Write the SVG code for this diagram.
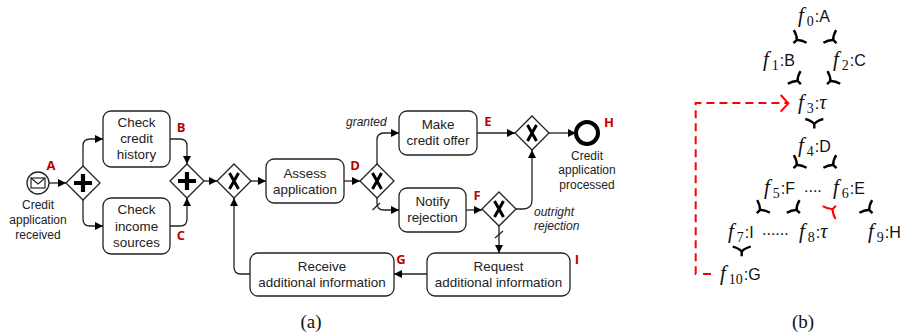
<svg xmlns="http://www.w3.org/2000/svg" width="902" height="335" viewBox="0 0 902 335">
<style>
.box{fill:#fff;stroke:#222;stroke-width:1.3}
.gw{fill:#fff;stroke:#222;stroke-width:1.3}
.plus{fill:none;stroke:#000;stroke-width:4.2}
.xor{fill:none;stroke:#000;stroke-width:3}
.t{font:13.400px "Liberation Sans",Arial,sans-serif;fill:#222;text-anchor:middle}
.s{font:12px "Liberation Sans",Arial,sans-serif;fill:#222;text-anchor:middle}
.i{font:italic 12px "Liberation Sans",Arial,sans-serif;fill:#222}
.r{font:bold 13px "Open Sans","Liberation Sans",sans-serif;fill:#c00000;text-anchor:middle}
.c{fill:none;stroke:#222;stroke-width:1.3}
.m{font:16px "Liberation Sans",Arial,sans-serif;fill:#111}
.f{font:italic 21px "Liberation Serif","Times New Roman",serif}
.n{font:14px "Liberation Serif","Times New Roman",serif}
.g{font:italic 20px "Liberation Serif","Times New Roman",serif}
.cap{font:19px "Liberation Serif","Times New Roman",serif;fill:#111;text-anchor:middle}
.arr{fill:none;stroke:#000;stroke-width:2.400}
.red{fill:none;stroke:#f00;stroke-width:2}
</style>
<defs>
<marker id="h" markerUnits="userSpaceOnUse" markerWidth="8" markerHeight="8" refX="8" refY="4" orient="auto"><path d="M0 0L8 4L0 8Z" fill="#000"/></marker>
<g id="pl"><polygon class="gw" points="0,-17 17,0 0,17 -17,0"/><path class="plus" d="M-9 0H9M0 -9V9"/></g>
<g id="xo"><polygon class="gw" points="0,-17 17,0 0,17 -17,0"/><path class="xor" d="M-4.500 -8L4.500 8M4.500 -8L-4.500 8"/></g>
<path id="ar" d="M-9 -5Q-3 -3.500 0 0Q3 -3.500 9 -5M0 -2V4.500"/>
</defs>
<g id="connectors">
<path class="c" marker-end="url(#h)" d="M49 183H66"/>
<path class="c" marker-end="url(#h)" d="M83 166V146Q83 139 90 139H103"/>
<path class="c" marker-end="url(#h)" d="M83 200V219Q83 226 90 226H103"/>
<path class="c" marker-end="url(#h)" d="M170 139H180Q187 139 187 146V164"/>
<path class="c" marker-end="url(#h)" d="M170 226H180Q187 226 187 219V198"/>
<path class="c" marker-end="url(#h)" d="M204 181H217"/>
<path class="c" marker-end="url(#h)" d="M251 181H266"/>
<path class="c" marker-end="url(#h)" d="M344 181H360"/>
<path class="c" marker-end="url(#h)" d="M377 164V140Q377 133 384 133H399"/>
<path class="c" marker-end="url(#h)" d="M377 198V203Q377 210 384 210H399"/>
<path class="c" d="M372.500 210L380 203"/>
<path class="c" marker-end="url(#h)" d="M466 210H482"/>
<path class="c" marker-end="url(#h)" d="M516 209H523Q532 209 532 200V150"/>
<path class="c" marker-end="url(#h)" d="M477 133H515"/>
<path class="c" marker-end="url(#h)" d="M549 133H576"/>
<path class="c" marker-end="url(#h)" d="M499 226V253"/>
<path class="c" d="M495 238L503 231"/>
<path class="c" marker-end="url(#h)" d="M427 274H394"/>
<path class="c" marker-end="url(#h)" d="M250 274H241Q234 274 234 267V198"/>
</g>
<g id="start"><circle cx="38" cy="183" r="11" fill="#fff" stroke="#222" stroke-width="1.300"/><rect x="31" y="178" width="14" height="10" fill="none" stroke="#222" stroke-width="1.200"/><path d="M31 178L38 184L45 178" fill="none" stroke="#222" stroke-width="1.200"/>
<text class="s" x="38" y="209">Credit</text><text class="s" x="38" y="224">application</text><text class="s" x="38" y="239">received</text><text class="r" x="51" y="170">A</text></g>
<use id="g1" href="#pl" x="83" y="183"/>
<g id="b"><rect class="box" x="103" y="111" width="67" height="56" rx="8"/><text class="t" x="136.500" y="127">Check</text><text class="t" x="136.500" y="143">credit</text><text class="t" x="136.500" y="159">history</text><text class="r" x="181" y="132">B</text></g>
<g id="c"><rect class="box" x="103" y="198" width="67" height="56" rx="8"/><text class="t" x="136.500" y="214">Check</text><text class="t" x="136.500" y="231">income</text><text class="t" x="136.500" y="247">sources</text><text class="r" x="181" y="240">C</text></g>
<use id="g2" href="#pl" x="187" y="181"/>
<use id="g3" href="#xo" x="234" y="181"/>
<g id="d"><rect class="box" x="266" y="159" width="78" height="44" rx="8"/><text class="t" x="305" y="178">Assess</text><text class="t" x="305" y="194">application</text><text class="r" x="355" y="170">D</text></g>
<g id="g4"><use href="#xo" x="377" y="181"/><text class="i" x="346" y="126">granted</text></g>
<g id="e"><rect class="box" x="399" y="111" width="78" height="44" rx="8"/><text class="t" x="438" y="129">Make</text><text class="t" x="438" y="145">credit offer</text><text class="r" x="488" y="126">E</text></g>
<g id="f"><rect class="box" x="399" y="188" width="67" height="44" rx="8"/><text class="t" x="432.500" y="206">Notify</text><text class="t" x="432.500" y="222">rejection</text><text class="r" x="477" y="200">F</text></g>
<g id="g5"><use href="#xo" x="499" y="209"/><text class="i" x="534" y="216">outright</text><text class="i" x="534" y="230">rejection</text></g>
<use id="g6" href="#xo" x="532" y="133"/>
<g id="end"><circle cx="587" cy="133" r="11" fill="#fff" stroke="#000" stroke-width="4"/><text class="s" x="587" y="160">Credit</text><text class="s" x="587" y="174">application</text><text class="s" x="587" y="189">processed</text><text class="r" x="609" y="127">H</text></g>
<g id="i"><rect class="box" x="427" y="253" width="143" height="43" rx="8"/><text class="t" x="498.500" y="271">Request</text><text class="t" x="498.500" y="287">additional information</text><text class="r" x="577" y="264">I</text></g>
<g id="g"><rect class="box" x="250" y="253" width="144" height="43" rx="8"/><text class="t" x="322" y="271">Receive</text><text class="t" x="322" y="287">additional information</text><text class="r" x="401" y="264">G</text></g>
<text class="cap" x="311" y="328">(a)</text>
<g id="f-nodes">
<text id="f0" class="m" x="798" y="22"><tspan class="f">f</tspan><tspan class="n" dx="3" dy="4">0</tspan><tspan dx="1" dy="-4">:A</tspan></text>
<text id="f1" class="m" x="763" y="66"><tspan class="f">f</tspan><tspan class="n" dx="3" dy="4">1</tspan><tspan dx="1" dy="-4">:B</tspan></text>
<text id="f2" class="m" x="833" y="66"><tspan class="f">f</tspan><tspan class="n" dx="3" dy="4">2</tspan><tspan dx="1" dy="-4">:C</tspan></text>
<text id="f3" class="m" x="798" y="109"><tspan class="f">f</tspan><tspan class="n" dx="3" dy="4">3</tspan><tspan dx="1" dy="-4">:</tspan><tspan class="g">τ</tspan></text>
<text id="f4" class="m" x="798" y="152"><tspan class="f">f</tspan><tspan class="n" dx="3" dy="4">4</tspan><tspan dx="1" dy="-4">:D</tspan></text>
<text id="f5" class="m" x="764" y="194"><tspan class="f">f</tspan><tspan class="n" dx="3" dy="4">5</tspan><tspan dx="1" dy="-4">:F</tspan></text>
<text id="f6" class="m" x="833" y="194"><tspan class="f">f</tspan><tspan class="n" dx="3" dy="4">6</tspan><tspan dx="1" dy="-4">:E</tspan></text>
<text id="f7" class="m" x="728" y="238"><tspan class="f">f</tspan><tspan class="n" dx="3" dy="4">7</tspan><tspan dx="1" dy="-4">:I</tspan></text>
<text id="f8" class="m" x="799" y="238"><tspan class="f">f</tspan><tspan class="n" dx="3" dy="4">8</tspan><tspan dx="1" dy="-4">:</tspan><tspan class="g">τ</tspan></text>
<text id="f9" class="m" x="868" y="238"><tspan class="f">f</tspan><tspan class="n" dx="3" dy="4">9</tspan><tspan dx="1" dy="-4">:H</tspan></text>
<text id="f10" class="m" x="720" y="280"><tspan class="f">f</tspan><tspan class="n" dx="3" dy="4">10</tspan><tspan dx="1" dy="-4">:G</tspan></text>
<text class="m" x="804" y="192" font-weight="bold" letter-spacing="0">....</text>
<text class="m" x="762" y="235" font-weight="bold" letter-spacing="0">......</text>
</g>
<g id="f-connectors">
<use class="arr" href="#ar" transform="translate(796.700 40) rotate(45)"/>
<use class="arr" href="#ar" transform="translate(833.300 40) rotate(-45)"/>
<use class="arr" href="#ar" transform="translate(797.700 81) rotate(-45)"/>
<use class="arr" href="#ar" transform="translate(830.300 81) rotate(45)"/>
<use class="arr" href="#ar" transform="translate(814.300 124)"/>
<use class="arr" href="#ar" transform="translate(796.700 165) rotate(45)"/>
<use class="arr" href="#ar" transform="translate(833.300 165) rotate(-45)"/>
<use class="arr" href="#ar" transform="translate(760 210) rotate(45)"/>
<use class="arr" href="#ar" transform="translate(796.700 210) rotate(-45)"/>
<use class="red" href="#ar" transform="translate(832.700 209) rotate(225)"/>
<use class="arr" href="#ar" transform="translate(869.300 210) rotate(-45)"/>
<use class="arr" href="#ar" transform="translate(741.700 251.700)"/>
<path class="red" stroke-dasharray="8 5" d="M711 274H703M696 274H695.700V103H787"/>
<path class="red" d="M780.700 95L788.300 103.300L780.700 111.700"/>
</g>
<text class="cap" x="803" y="328">(b)</text>
</svg>
